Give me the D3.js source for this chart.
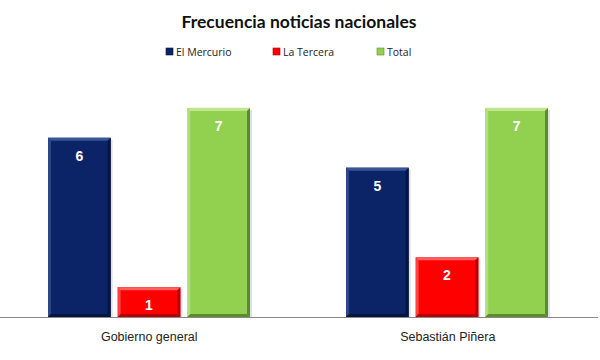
<!DOCTYPE html>
<html><head><meta charset="utf-8">
<script src="https://cdn.jsdelivr.net/npm/d3@7"></script>
<style>body{margin:0;background:#fff}svg{display:block}</style>
</head><body>
<script>
const categories = ["Gobierno general", "Sebastián Piñera"];
const seriesNames = ["El Mercurio", "La Tercera", "Total"];
const elMercurio = [6, 5];
const laTercera = [1, 2];
const total = [7, 7];
const title = "Frecuencia noticias nacionales";

const colors = ["#0b2468", "#ff0000", "#92d050"];
const darks = ["#061540", "#b80000", "#5e8a2e"];
const lights = ["#3a5594", "#ff6060", "#bfe68f"];

const W = 600, H = 360;
const svg = d3.select("body").append("svg").attr("width", W).attr("height", H);

const x0 = d3.scaleBand().domain(categories).range([0, 597]).paddingInner(0).paddingOuter(0);
const x1 = d3.scaleBand().domain(seriesNames).range([48, 250]).paddingInner(0.1);
const y = d3.scaleLinear().domain([0, 8]).range([317, 78]);

const seriesVals = [elMercurio, laTercera, total];

// title
svg.append("text").attr("x", 299).attr("y", 28).attr("text-anchor", "middle")
  .attr("font-family", "Lato, 'Open Sans', sans-serif").attr("font-weight", "bold")
  .attr("font-size", 17.5).attr("fill", "#111").text(title);

// legend
const legX = [166, 273, 377];
seriesNames.forEach((s, i) => {
  const g = svg.append("g").attr("transform", `translate(${legX[i]},56)`);
  g.append("rect").attr("x", 0).attr("y", -8).attr("width", 7).attr("height", 7)
    .attr("fill", colors[i]).attr("stroke", darks[i]).attr("stroke-width", 0.6);
  g.append("text").attr("x", 10).attr("y", 0).attr("font-family", "'Open Sans', 'DejaVu Sans', sans-serif")
    .attr("font-size", 10.5).attr("fill", "#222").text(s);
});

// bars
const offsets = categories.map(c => x0(c) - x0(categories[0]));
categories.forEach((c, ci) => {
  seriesNames.forEach((s, si) => {
    const v = seriesVals[si][ci];
    const bx = x1(s) + offsets[ci] - (ci === 1 ? 0.5 : 0);
    const bw = x1.bandwidth();
    const by = y(v), bh = y(0) - y(v);
    const g = svg.append("g");
    // shadow
    g.append("rect").attr("x", bx + 2).attr("y", by + 2).attr("width", bw).attr("height", bh - 2)
      .attr("fill", "#000").attr("opacity", 0.12);
    g.append("rect").attr("x", bx).attr("y", by).attr("width", bw).attr("height", bh).attr("fill", colors[si]);
    const b = 3;
    g.append("polygon").attr("points", [[bx, by], [bx + bw, by], [bx + bw - b, by + b], [bx + b, by + b]].join(" "))
      .attr("fill", lights[si]);
    g.append("polygon").attr("points", [[bx, by], [bx + b, by + b], [bx + b, by + bh - b], [bx, by + bh]].join(" "))
      .attr("fill", lights[si]).attr("opacity", 0.7);
    g.append("polygon").attr("points", [[bx + bw, by], [bx + bw, by + bh], [bx + bw - b, by + bh - b], [bx + bw - b, by + b]].join(" "))
      .attr("fill", darks[si]);
    g.append("polygon").attr("points", [[bx, by + bh], [bx + bw, by + bh], [bx + bw - b, by + bh - b], [bx + b, by + bh - b]].join(" "))
      .attr("fill", darks[si]);
    g.append("text").attr("x", bx + bw / 2).attr("y", by + 23).attr("text-anchor", "middle")
      .attr("font-family", "Arial, 'Liberation Sans', sans-serif").attr("font-weight", "bold")
      .attr("font-size", 14).attr("fill", "#fff").text(v);
  });
});

// axis line
svg.append("line").attr("x1", 0).attr("x2", 598).attr("y1", y(0) + 0.5).attr("y2", y(0) + 0.5)
  .attr("stroke", "#8a8a8a").attr("stroke-width", 1);

// category labels
categories.forEach((c) => {
  svg.append("text").attr("x", x0(c) + x0.bandwidth() / 2).attr("y", 341).attr("text-anchor", "middle")
    .attr("font-family", "Arial, 'Liberation Sans', sans-serif").attr("font-size", 12.5).attr("fill", "#222").text(c);
});
</script>
</body></html>
